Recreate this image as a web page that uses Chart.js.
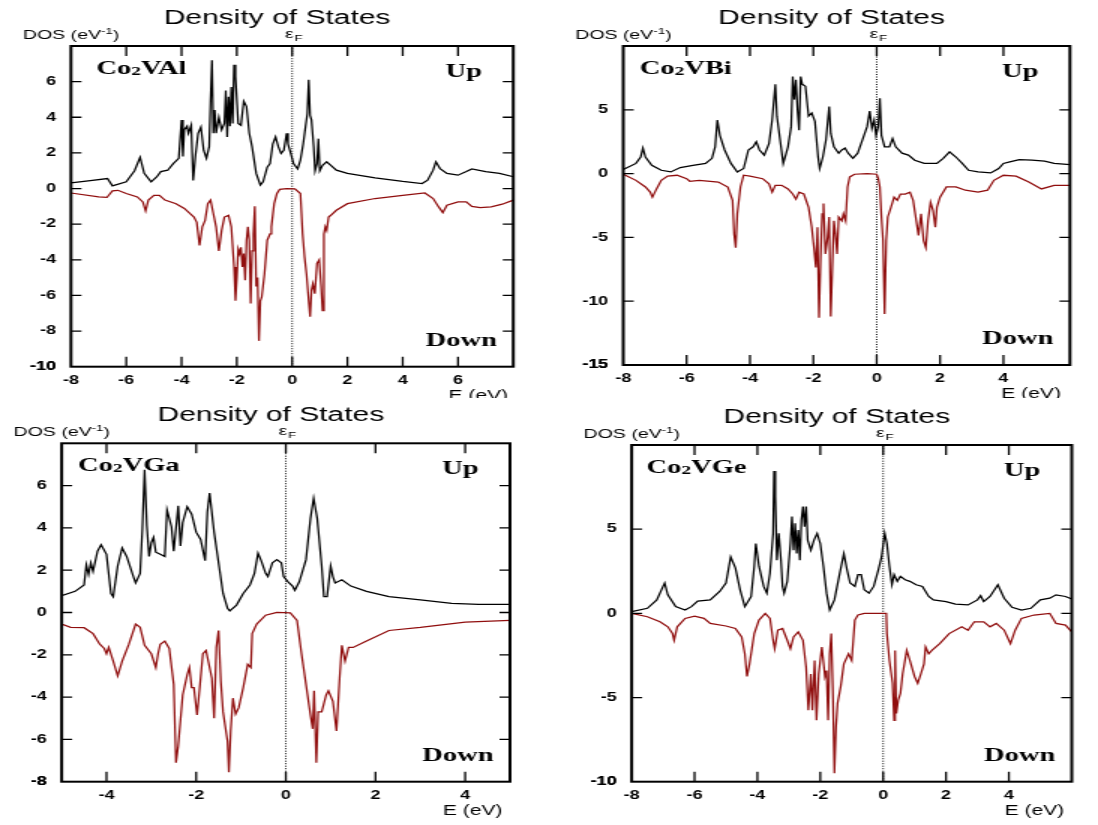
<!DOCTYPE html>
<html>
<head>
<meta charset="utf-8">
<script src="https://cdn.jsdelivr.net/npm/chart.js@4/dist/chart.umd.min.js"></script>
<style>
  body { margin: 0; background: #fff; width: 1098px; height: 825px; overflow: hidden; position: relative; }
  .panel { position: absolute; transform: scaleX(1.5); transform-origin: 0 0; }
</style>
</head>
<body>
<div class="panel" style="left:0;top:0"><canvas id="cAl" width="366" height="398"></canvas></div>
<div class="panel" style="left:549px;top:0"><canvas id="cBi" width="366" height="398"></canvas></div>
<div class="panel" style="left:0;top:398px"><canvas id="cGa" width="366" height="427"></canvas></div>
<div class="panel" style="left:549px;top:398px"><canvas id="cGe" width="366" height="427"></canvas></div>
<script>
/* DOS curves, [E (eV), DOS (eV^-1)] */

// Co2VAl
const alUp = [[-8,0.32],[-7.3,0.45],[-6.68,0.56],[-6.5,0.15],[-6,0.38],[-5.7,1.0],[-5.5,1.75],[-5.35,0.85],[-5.1,0.38],[-4.9,0.65],[-4.75,0.95],[-4.5,1.03],[-4.3,1.4],[-4.1,1.7],[-4.0,3.85],[-3.95,1.8],[-3.9,3.3],[-3.8,3.5],[-3.75,3.1],[-3.65,3.55],[-3.58,0.45],[-3.5,1.8],[-3.4,3.1],[-3.3,3.45],[-3.2,2.15],[-3.1,1.7],[-3.0,2.35],[-2.95,4.95],[-2.9,7.2],[-2.85,3.1],[-2.8,4.4],[-2.75,3.1],[-2.65,4.0],[-2.55,3.3],[-2.45,3.65],[-2.4,5.5],[-2.35,2.9],[-2.3,5.15],[-2.25,3.5],[-2.2,5.7],[-2.15,3.65],[-2.1,6.95],[-2.05,6.3],[-2.0,4.95],[-1.95,3.65],[-1.85,3.55],[-1.75,4.9],[-1.65,4.6],[-1.55,3.1],[-1.45,2.35],[-1.3,0.85],[-1.15,0.2],[-1.05,0.38],[-0.9,1.2],[-0.8,1.4],[-0.7,2.5],[-0.6,2.9],[-0.5,2.35],[-0.4,1.97],[-0.3,2.15],[-0.2,3.1],[-0.15,2.5],[-0.05,1.97],[0.05,1.4],[0.2,1.1],[0.3,1.6],[0.4,2.5],[0.5,3.65],[0.55,4.2],[0.6,6.1],[0.65,4.1],[0.7,3.85],[0.78,2.35],[0.83,1.0],[0.9,1.4],[0.95,2.8],[1.0,1.0],[1.1,1.3],[1.25,1.5],[1.4,1.3],[1.6,1.03],[2,0.85],[3,0.6],[4,0.4],[4.7,0.28],[4.9,0.47],[5.1,1.03],[5.2,1.5],[5.35,1.12],[5.6,0.85],[6,0.75],[6.3,0.95],[6.5,1.1],[7,0.95],[7.5,0.85],[8,0.66]];
const alDown = [[-8,-0.25],[-7,-0.47],[-6.7,-0.5],[-6.5,-0.13],[-6.3,-0.1],[-6,-0.28],[-5.6,-0.47],[-5.4,-0.75],[-5.3,-1.25],[-5.2,-0.65],[-5.0,-0.38],[-4.8,-0.38],[-4.6,-0.65],[-4.2,-0.85],[-3.9,-1.12],[-3.7,-1.4],[-3.55,-1.6],[-3.45,-1.9],[-3.35,-3.2],[-3.25,-2.15],[-3.15,-1.8],[-3.05,-0.85],[-2.95,-0.65],[-2.85,-1.4],[-2.75,-2.15],[-2.65,-3.5],[-2.55,-2.35],[-2.45,-1.6],[-2.3,-1.5],[-2.2,-2.15],[-2.1,-4.4],[-2.05,-6.3],[-2.0,-5.0],[-1.95,-3.4],[-1.9,-3.65],[-1.85,-3.3],[-1.8,-4.4],[-1.75,-3.65],[-1.7,-5.15],[-1.65,-2.9],[-1.6,-2.15],[-1.55,-2.9],[-1.5,-6.45],[-1.45,-3.5],[-1.4,-2.55],[-1.35,-1.0],[-1.3,-5.5],[-1.25,-5.0],[-1.2,-8.55],[-1.15,-6.3],[-1.1,-6.1],[-1.0,-4.8],[-0.9,-2.9],[-0.8,-2.55],[-0.75,-2.15],[-0.65,-0.85],[-0.55,-0.28],[-0.45,-0.05],[-0.2,0],[0.1,-0.02],[0.3,-0.28],[0.38,-2.55],[0.45,-3.85],[0.52,-4.8],[0.6,-6.3],[0.65,-7.2],[0.7,-5.7],[0.75,-5.35],[0.82,-5.9],[0.9,-4.2],[0.98,-4.0],[1.05,-5.5],[1.1,-6.85],[1.15,-2.55],[1.2,-2.15],[1.25,-2.35],[1.32,-1.6],[1.4,-1.5],[1.6,-1.22],[2,-0.85],[3,-0.56],[4,-0.38],[4.8,-0.25],[5.1,-0.56],[5.3,-1.03],[5.45,-1.35],[5.6,-0.94],[6,-0.75],[6.3,-0.75],[6.5,-1.0],[6.8,-1.07],[7.2,-1.03],[7.6,-0.88],[8,-0.65]];
const alXTicks = [-8, -6, -4, -2, 0, 2, 4, 6];
const alYTicks = [-10, -8, -6, -4, -2, 0, 2, 4, 6];

// Co2VBi
const biUp = [[-8,0.32],[-7.6,0.8],[-7.45,1.3],[-7.38,2.0],[-7.3,1.3],[-7.1,0.65],[-6.8,0.26],[-6.5,0.13],[-6.2,0.47],[-5.8,0.65],[-5.4,0.8],[-5.2,1.2],[-5.1,2.1],[-5.03,4.2],[-4.95,3.0],[-4.8,1.85],[-4.6,0.8],[-4.4,0.13],[-4.2,0.4],[-4.05,1.85],[-3.9,2.1],[-3.8,2.5],[-3.7,1.85],[-3.55,1.45],[-3.4,2.35],[-3.3,4.2],[-3.2,7.0],[-3.15,4.5],[-3.05,2.65],[-2.95,0.8],[-2.8,2.1],[-2.7,3.7],[-2.65,7.6],[-2.6,5.8],[-2.55,7.35],[-2.5,5.0],[-2.45,3.4],[-2.4,7.6],[-2.35,7.0],[-2.25,6.85],[-2.15,4.5],[-2.05,4.75],[-1.95,4.1],[-1.85,1.3],[-1.8,0.4],[-1.7,1.3],[-1.6,2.65],[-1.5,5.25],[-1.45,3.15],[-1.35,2.1],[-1.2,1.6],[-1.1,1.85],[-1.0,2.0],[-0.9,1.6],[-0.75,1.2],[-0.6,1.6],[-0.45,2.65],[-0.3,3.7],[-0.22,4.9],[-0.15,3.55],[-0.08,4.2],[-0.02,3.0],[0.05,3.7],[0.1,5.9],[0.15,3.0],[0.25,2.1],[0.4,2.1],[0.5,2.75],[0.6,2.1],[0.8,1.6],[1.0,1.45],[1.2,1.05],[1.5,0.8],[1.9,0.8],[2.1,1.2],[2.3,1.7],[2.5,1.3],[2.7,0.8],[2.9,0.26],[3.2,0.13],[3.6,0.05],[3.85,0.4],[4.0,0.8],[4.2,0.92],[4.5,1.1],[4.9,1.05],[5.3,0.97],[5.6,0.8],[6.1,0.7]];
const biDown = [[-8,-0.05],[-7.6,-0.53],[-7.3,-1.05],[-7.15,-1.45],[-7.08,-1.85],[-6.95,-1.2],[-6.8,-0.53],[-6.6,-0.2],[-6.3,-0.13],[-6.0,-0.4],[-5.9,-0.6],[-5.6,-0.53],[-5.0,-0.66],[-4.7,-1.05],[-4.55,-2.1],[-4.5,-4.75],[-4.45,-5.8],[-4.4,-3.15],[-4.3,-1.05],[-4.2,-0.13],[-4.0,-0.2],[-3.6,-0.4],[-3.4,-0.8],[-3.3,-1.45],[-3.2,-0.92],[-3.0,-0.92],[-2.8,-1.2],[-2.65,-1.6],[-2.55,-2.0],[-2.45,-1.45],[-2.3,-1.6],[-2.15,-2.65],[-2.05,-4.2],[-1.98,-5.8],[-1.92,-7.35],[-1.87,-4.2],[-1.82,-11.3],[-1.77,-6.6],[-1.72,-3.15],[-1.68,-2.35],[-1.62,-6.3],[-1.55,-5.0],[-1.5,-3.4],[-1.45,-11.2],[-1.4,-7.35],[-1.35,-3.7],[-1.3,-4.75],[-1.25,-6.3],[-1.2,-3.4],[-1.1,-3.7],[-1.05,-3.15],[-0.98,-3.7],[-0.92,-1.05],[-0.85,-0.26],[-0.7,-0.05],[-0.3,0],[0,-0.05],[0.05,-0.4],[0.1,-1.05],[0.15,-3.4],[0.2,-5.25],[0.25,-11.0],[0.3,-5.25],[0.35,-3.4],[0.45,-2.65],[0.55,-1.85],[0.65,-2.1],[0.75,-1.6],[0.9,-1.6],[1.05,-1.45],[1.15,-2.1],[1.25,-3.7],[1.32,-4.85],[1.4,-3.15],[1.48,-5.25],[1.55,-5.8],[1.62,-3.7],[1.7,-2.25],[1.78,-2.9],[1.85,-4.2],[1.9,-2.65],[2.0,-1.85],[2.2,-1.05],[2.5,-1.05],[2.8,-1.3],[3.2,-1.45],[3.5,-1.3],[3.7,-0.53],[4.0,-0.13],[4.4,-0.2],[4.8,-0.66],[5.2,-1.2],[5.6,-0.92],[6.1,-0.92]];
const biXTicks = [-8, -6, -4, -2, 0, 2, 4];
const biYTicks = [-15, -10, -5, 0, 5];

// Co2VGa
const gaUp = [[-5,0.8],[-4.7,1.0],[-4.5,1.3],[-4.45,2.25],[-4.4,1.8],[-4.35,2.35],[-4.3,1.95],[-4.2,2.9],[-4.12,3.2],[-4.0,2.75],[-3.9,0.9],[-3.85,0.75],[-3.75,2.2],[-3.65,3.05],[-3.55,2.65],[-3.4,1.7],[-3.35,1.4],[-3.25,1.85],[-3.2,3.95],[-3.15,6.75],[-3.1,4.1],[-3.05,2.65],[-3.0,3.3],[-2.95,3.55],[-2.9,2.85],[-2.8,2.75],[-2.7,2.65],[-2.65,4.85],[-2.55,4.05],[-2.5,2.9],[-2.4,5.05],[-2.35,3.15],[-2.3,4.25],[-2.2,5.0],[-2.1,4.65],[-2.0,3.8],[-1.9,3.45],[-1.8,2.45],[-1.75,4.75],[-1.7,5.65],[-1.6,3.8],[-1.5,2.35],[-1.4,0.9],[-1.3,0.2],[-1.25,0.08],[-1.1,0.35],[-0.95,0.9],[-0.8,1.3],[-0.7,1.85],[-0.62,2.8],[-0.55,2.45],[-0.45,1.85],[-0.4,1.7],[-0.3,2.35],[-0.2,2.5],[-0.1,2.35],[-0.05,1.7],[0.05,1.45],[0.15,1.25],[0.2,1.05],[0.3,1.45],[0.45,2.5],[0.55,4.45],[0.62,5.4],[0.7,4.45],[0.8,2.2],[0.85,0.75],[0.92,0.75],[1.0,2.2],[1.05,1.7],[1.1,1.4],[1.25,1.55],[1.45,1.25],[1.8,1.0],[2.3,0.75],[3,0.6],[3.7,0.43],[4.3,0.38],[5,0.38]];
const gaDown = [[-5,-0.55],[-4.8,-0.7],[-4.5,-0.72],[-4.3,-1.0],[-4.15,-1.5],[-4.05,-1.7],[-4.0,-1.95],[-3.95,-1.65],[-3.85,-2.3],[-3.75,-3.0],[-3.65,-2.3],[-3.5,-1.5],[-3.35,-0.55],[-3.25,-0.7],[-3.15,-1.55],[-3.0,-1.95],[-2.9,-2.6],[-2.85,-1.95],[-2.8,-1.5],[-2.7,-1.35],[-2.6,-1.7],[-2.5,-3.4],[-2.45,-7.1],[-2.4,-6.3],[-2.3,-3.9],[-2.2,-2.95],[-2.15,-2.6],[-2.1,-3.55],[-2.05,-3.55],[-1.98,-4.85],[-1.92,-3.55],[-1.85,-1.95],[-1.78,-1.8],[-1.7,-2.6],[-1.65,-3.1],[-1.6,-5.0],[-1.55,-1.65],[-1.5,-0.85],[-1.45,-3.25],[-1.4,-4.7],[-1.3,-6.1],[-1.27,-7.55],[-1.23,-5.6],[-1.18,-4.05],[-1.12,-4.8],[-1.05,-4.5],[-0.95,-3.55],[-0.85,-2.45],[-0.78,-2.6],[-0.75,-1.0],[-0.65,-0.55],[-0.45,-0.13],[-0.2,0],[0.1,-0.02],[0.25,-0.37],[0.35,-1.95],[0.45,-3.4],[0.55,-4.85],[0.6,-5.5],[0.63,-3.7],[0.68,-7.1],[0.72,-4.7],[0.8,-4.7],[0.9,-3.9],[0.95,-3.7],[1.05,-4.2],[1.13,-5.6],[1.2,-3.1],[1.25,-1.55],[1.32,-2.3],[1.4,-1.65],[1.5,-1.65],[1.8,-1.35],[2.3,-0.85],[3,-0.7],[4,-0.45],[5,-0.37]];
const gaXTicks = [-4, -2, 0, 2, 4];
const gaYTicks = [-8, -6, -4, -2, 0, 2, 4, 6];

// Co2VGe
const geUp = [[-8,0.1],[-7.5,0.3],[-7.2,0.8],[-7.0,1.6],[-6.95,1.8],[-6.85,1.1],[-6.6,0.4],[-6.3,0.2],[-6.1,0.4],[-5.9,0.73],[-5.5,0.8],[-5.2,1.3],[-5.0,1.8],[-4.85,3.35],[-4.7,2.7],[-4.55,1.4],[-4.4,0.4],[-4.2,1.0],[-4.1,2.8],[-4.05,4.15],[-3.95,2.8],[-3.8,1.6],[-3.7,1.2],[-3.6,2.4],[-3.5,4.75],[-3.47,8.45],[-3.43,6.95],[-3.38,3.15],[-3.32,4.75],[-3.25,3.15],[-3.2,1.6],[-3.15,1.2],[-3.05,1.9],[-2.95,4.15],[-2.9,5.75],[-2.85,3.75],[-2.8,5.35],[-2.75,3.55],[-2.7,4.95],[-2.65,3.15],[-2.6,5.55],[-2.55,6.35],[-2.5,5.15],[-2.45,6.35],[-2.4,4.35],[-2.3,3.75],[-2.2,4.35],[-2.1,4.75],[-2.0,4.15],[-1.9,2.8],[-1.8,1.2],[-1.7,0.2],[-1.55,0.8],[-1.4,2.2],[-1.25,3.55],[-1.15,2.6],[-1.05,1.8],[-0.9,1.6],[-0.8,2.3],[-0.7,2.3],[-0.6,1.4],[-0.45,1.2],[-0.3,1.6],[-0.15,2.6],[-0.05,3.35],[0.05,4.75],[0.12,4.15],[0.2,2.8],[0.28,1.7],[0.35,2.3],[0.45,1.9],[0.55,2.2],[0.7,2.0],[0.85,1.9],[1.05,1.7],[1.25,1.6],[1.45,1.0],[1.6,0.8],[2.0,0.7],[2.3,0.55],[2.7,0.5],[3.0,0.8],[3.1,1.05],[3.2,0.7],[3.4,1.0],[3.65,1.7],[3.85,0.9],[4.1,0.36],[4.4,0.2],[4.7,0.3],[5.0,0.8],[5.3,0.9],[5.5,1.1],[5.8,1.0],[6,0.85]];
const geDown = [[-8,0],[-7.5,-0.2],[-7.1,-0.5],[-6.85,-0.8],[-6.7,-1.2],[-6.65,-1.6],[-6.55,-0.8],[-6.3,-0.3],[-6.0,-0.16],[-5.7,-0.3],[-5.5,-0.6],[-5.0,-0.75],[-4.7,-0.9],[-4.5,-1.4],[-4.4,-2.4],[-4.33,-3.75],[-4.25,-3.0],[-4.1,-1.2],[-3.95,-0.4],[-3.75,0],[-3.6,-0.3],[-3.5,-1.6],[-3.45,-2.1],[-3.35,-1.0],[-3.2,-0.9],[-3.05,-1.6],[-2.95,-2.1],[-2.85,-1.4],[-2.7,-1.1],[-2.55,-1.6],[-2.45,-3.2],[-2.38,-5.75],[-2.3,-3.6],[-2.25,-5.75],[-2.18,-2.8],[-2.12,-6.35],[-2.05,-3.6],[-1.95,-2.0],[-1.85,-3.75],[-1.8,-3.4],[-1.75,-6.35],[-1.7,-2.4],[-1.65,-1.2],[-1.6,-4.6],[-1.55,-9.5],[-1.5,-6.75],[-1.45,-5.35],[-1.35,-4.35],[-1.25,-3.0],[-1.1,-2.4],[-1.0,-2.8],[-0.95,-1.6],[-0.9,-0.4],[-0.8,-0.1],[-0.6,0],[0,0],[0.1,0],[0.12,-1.2],[0.2,-2.8],[0.3,-4.15],[0.35,-6.35],[0.38,-2.2],[0.42,-5.95],[0.48,-5.15],[0.55,-4.75],[0.62,-3.6],[0.75,-2.2],[0.85,-2.8],[1.0,-3.75],[1.1,-4.15],[1.2,-3.6],[1.3,-3.0],[1.35,-2.0],[1.45,-2.4],[1.55,-2.2],[1.8,-1.8],[2.1,-1.2],[2.5,-0.8],[2.7,-1.0],[2.9,-0.5],[3.2,-0.5],[3.4,-0.8],[3.6,-0.6],[3.85,-1.0],[4.0,-1.6],[4.05,-1.8],[4.2,-1.0],[4.4,-0.3],[4.8,-0.1],[5.3,0],[5.5,-0.6],[5.8,-0.7],[6,-1.1]];
const geXTicks = [-8, -6, -4, -2, 0, 2, 4];
const geYTicks = [-10, -5, 0, 5];

const YW = 40;   // y axis width
const XH = 30;   // x axis height
const SANS = '"Liberation Sans", Arial, sans-serif';
const SERIF = '"Liberation Serif", "Times New Roman", serif';

const panels = [
  { id: 'cAl', name: 'VAl', up: alUp, down: alDown, x: [-8, 8], y: [-10, 8], xTicks: alXTicks, yTicks: alYTicks, box: [47.3, 46, 342.2, 366.7], nameDx: 17, eDx: 3.5 },
  { id: 'cBi', name: 'VBi', up: biUp, down: biDown, x: [-8, 6.1], y: [-15, 10], xTicks: biXTicks, yTicks: biYTicks, box: [49.5, 46, 347.3, 365], nameDx: 11, eDx: 6 },
  { id: 'cGa', name: 'VGa', up: gaUp, down: gaDown, x: [-5, 5], y: [-8, 8], xTicks: gaXTicks, yTicks: gaYTicks, box: [41.1, 45.3, 340, 383.7], nameDx: 11, eDx: 5 },
  { id: 'cGe', name: 'VGe', up: geUp, down: geDown, x: [-8, 6], y: [-10, 10], xTicks: geXTicks, yTicks: geYTicks, box: [55.1, 47, 348.5, 383.7], nameDx: 10, eDx: 5 }
];

// frame, inner ticks and the texts round the plot; x tick labels go last
function makeFrame(p) {
  return {
    id: 'frame_' + p.id,
    afterDraw(chart) {
      const ctx = chart.ctx;
      const a = chart.chartArea;
      const sx = chart.scales.x;
      const sy = chart.scales.y;
      ctx.save();
      ctx.strokeStyle = '#000';
      ctx.lineWidth = 1.3;
      ctx.beginPath();
      p.xTicks.forEach(v => {
        if (v <= p.x[0] || v >= p.x[1]) return;
        const px = sx.getPixelForValue(v);
        ctx.moveTo(px, a.bottom); ctx.lineTo(px, a.bottom - 10);
        ctx.moveTo(px, a.top); ctx.lineTo(px, a.top + 10);
      });
      p.yTicks.forEach(v => {
        if (v <= p.y[0] || v >= p.y[1]) return;
        const py = sy.getPixelForValue(v);
        ctx.moveTo(a.left, py); ctx.lineTo(a.left + 7, py);
        ctx.moveTo(a.right, py); ctx.lineTo(a.right - 7, py);
      });
      ctx.stroke();
      ctx.lineWidth = 2;
      ctx.strokeRect(a.left, a.top, a.right - a.left, a.bottom - a.top);

      ctx.fillStyle = '#000';
      ctx.textBaseline = 'alphabetic';

      // title
      ctx.font = '20px ' + SANS;
      ctx.textAlign = 'center';
      ctx.fillText('Density of States', (a.left + a.right) / 2 - 10, a.top - 22);

      // DOS (eV-1)
      ctx.textAlign = 'left';
      let tx = a.left - 32;
      const ty = a.top - 7;
      ctx.font = '13px ' + SANS;
      ctx.fillText('DOS (eV', tx, ty);
      tx += ctx.measureText('DOS (eV').width;
      ctx.font = '9px ' + SANS;
      ctx.fillText('-1', tx, ty - 5);
      tx += ctx.measureText('-1').width;
      ctx.font = '13px ' + SANS;
      ctx.fillText(')', tx, ty);

      // Fermi level
      const x0 = sx.getPixelForValue(0);
      ctx.font = '13px ' + SANS;
      ctx.textAlign = 'right';
      ctx.fillText('\u03b5', x0 + 1, a.top - 8);
      ctx.font = '9px ' + SANS;
      ctx.textAlign = 'left';
      ctx.fillText('F', x0 + 1.5, a.top - 5);

      // compound name
      ctx.font = 'bold 19px ' + SERIF;
      ctx.textAlign = 'left';
      let nx = a.left + p.nameDx;
      const ny = a.top + 28;
      ctx.fillText('Co', nx, ny);
      nx += ctx.measureText('Co').width;
      ctx.font = 'bold 13px ' + SERIF;
      ctx.fillText('2', nx, ny + 1);
      nx += ctx.measureText('2').width;
      ctx.font = 'bold 19px ' + SERIF;
      ctx.fillText(p.name, nx, ny);

      // spin channels
      ctx.textAlign = 'right';
      ctx.fillText('Up', a.right - 21, a.top + 31);
      ctx.fillText('Down', a.right - 11, a.bottom - 21);

      // E (eV)
      ctx.font = '14px ' + SANS;
      ctx.textAlign = 'right';
      ctx.fillText('E (eV)', a.right - p.eDx, a.bottom + 33);

      // x tick labels, one call each
      ctx.font = 'bold 12px ' + SANS;
      ctx.textAlign = 'center';
      ctx.textBaseline = 'middle';
      for (let i = 0; i < p.xTicks.length; i++) {
        const v = p.xTicks[i];
        ctx.fillText(String(v), sx.getPixelForValue(v), a.bottom + 14);
      }
      ctx.restore();
    }
  };
}

function makePanel(p) {
  const canvas = document.getElementById(p.id);
  const W = canvas.width;
  const H = canvas.height;
  const tickFont = { family: SANS, size: 12, weight: 'bold' };
  new Chart(canvas, {
    type: 'line',
    data: {
      datasets: [
        { data: p.up, borderColor: '#000', borderWidth: 1.25 },
        { data: p.down, borderColor: '#900e0e', borderWidth: 1.25 },
        { data: [[0, p.y[0]], [0, p.y[1]]], borderColor: '#000', borderWidth: 1, borderDash: [1, 1.5] }
      ]
    },
    options: {
      responsive: false,
      animation: false,
      events: [],
      layout: {
        padding: { left: p.box[0] - YW, top: p.box[1], right: W - p.box[2], bottom: H - p.box[3] - XH }
      },
      elements: { point: { radius: 0 }, line: { tension: 0 } },
      plugins: { legend: { display: false }, tooltip: { enabled: false }, title: { display: false } },
      scales: {
        x: {
          type: 'linear', min: p.x[0], max: p.x[1],
          grid: { display: false, drawTicks: false },
          border: { display: false },
          afterBuildTicks: s => { s.ticks = p.xTicks.map(v => ({ value: v })); },
          ticks: { display: false },   // labels drawn by the frame plugin
          afterFit: s => { s.height = XH; }
        },
        y: {
          type: 'linear', min: p.y[0], max: p.y[1],
          grid: { display: false, drawTicks: false },
          border: { display: false },
          afterBuildTicks: s => { s.ticks = [p.y[0], ...p.yTicks, p.y[1]].map(v => ({ value: v })); },
          ticks: {
            autoSkip: false, padding: 10, color: '#000', font: tickFont,
            callback: v => p.yTicks.includes(v) ? String(v) : ''
          },
          afterFit: s => { s.width = YW; }
        }
      }
    },
    plugins: [makeFrame(p)]
  });
}

panels.forEach(makePanel);
</script>
</body>
</html>
